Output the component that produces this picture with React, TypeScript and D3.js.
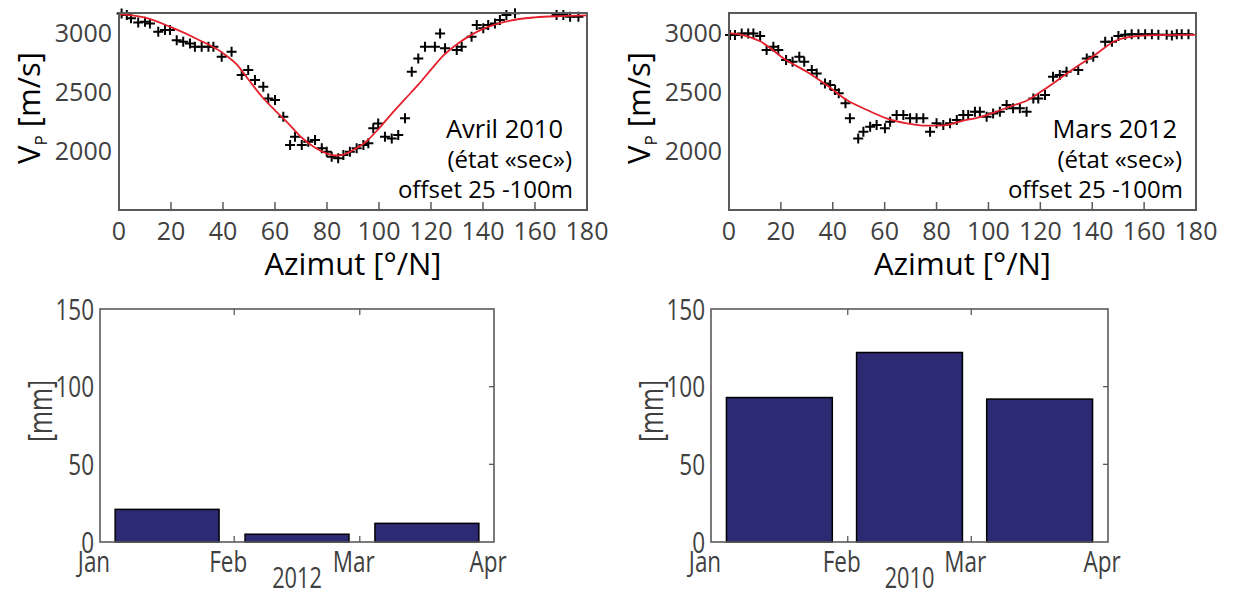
import React from "react";
import * as d3 from "d3";

// ---------- DATA ----------
const avrilAz = [1, 3, 4.6, 7.4, 10, 11.9, 15.1, 17.7, 19.6, 22.2, 24.7, 27.3, 29.2, 31.8, 34.4, 36.3, 39.5, 43.3, 47.2, 49.7, 52.3, 55.5, 57.4, 60, 63.2, 65.8, 67.7, 70.3, 72.8, 75.4, 78, 79.9, 81.8, 84.3, 86.3, 88.8, 91.4, 94, 95.9, 97.8, 99.7, 102.3, 104.9, 107.4, 110, 112.6, 115.1, 117.7, 121.5, 123.5, 125.4, 129.9, 131.8, 135.6, 137.6, 140.1, 142, 144.6, 146.5, 149, 152.3, 168.3, 170.9, 173.5, 176.7];
const avrilV = [3165, 3153, 3125, 3090, 3096, 3082, 3011, 3025, 3025, 2940, 2926, 2912, 2884, 2884, 2884, 2884, 2799, 2841, 2644, 2686, 2602, 2545, 2446, 2432, 2291, 2051, 2121, 2051, 2079, 2093, 2023, 1994, 1952, 1938, 1966, 1994, 2023, 2051, 2065, 2192, 2234, 2121, 2107, 2135, 2277, 2672, 2785, 2884, 2884, 2997, 2872, 2856, 2884, 2969, 3068, 3040, 3068, 3082, 3110, 3153, 3167, 3153, 3153, 3138, 3138];
const avrilFitAz = [0, 10, 20, 30, 40, 45, 50, 55, 60, 65, 70, 75, 80, 83, 86, 90, 95, 100, 105, 110, 115, 120, 125, 130, 135, 140, 150, 160, 170, 180];
const avrilFitV = [3160, 3130, 3050, 2950, 2830, 2740, 2600, 2460, 2345, 2237, 2119, 2034, 1978, 1962, 1968, 2008, 2079, 2192, 2319, 2440, 2560, 2690, 2815, 2905, 2978, 3035, 3104, 3133, 3144, 3150];

const marsAz = [0.4, 2.3, 4.9, 7.4, 9.4, 12, 14.5, 17.1, 19, 22, 24.5, 27.1, 29, 31.9, 33.8, 37, 39, 40.9, 42.3, 44.9, 46.6, 49.8, 51.8, 54.4, 56.9, 60.1, 62.1, 64.6, 67.2, 69.8, 72.3, 74.9, 77.5, 80, 82.6, 85.2, 87.8, 90.3, 92.2, 94.8, 96.7, 99.3, 101.8, 104.4, 107, 109.5, 112.1, 114.7, 117.3, 119.2, 121.8, 124.9, 127.5, 130.1, 134.6, 137.9, 140.4, 145, 147.6, 150.1, 152.7, 155.2, 157.8, 160.4, 163, 165.5, 168.7, 170.7, 172.6, 174.5, 177.1];
const marsV = [2983, 2983, 2997, 2997, 2997, 2975, 2856, 2884, 2856, 2771, 2757, 2799, 2757, 2686, 2658, 2573, 2559, 2517, 2489, 2404, 2277, 2107, 2163, 2206, 2220, 2192, 2248, 2305, 2305, 2277, 2277, 2277, 2163, 2235, 2220, 2235, 2263, 2305, 2305, 2333, 2333, 2291, 2319, 2333, 2390, 2362, 2362, 2333, 2446, 2446, 2475, 2630, 2644, 2672, 2686, 2785, 2799, 2926, 2926, 2975, 2985, 2990, 2990, 2990, 2990, 2985, 2985, 2980, 2990, 2990, 2990];
const marsFitAz = [0, 5, 12, 22, 30, 37.6, 45.4, 53, 61, 68.5, 76, 83, 90, 97, 103, 110, 114, 120, 126, 133, 141, 149, 154, 164, 180];
const marsFitV = [3000, 2985, 2930, 2771, 2672, 2559, 2432, 2350, 2275, 2235, 2215, 2218, 2255, 2290, 2333, 2390, 2420, 2500, 2590, 2700, 2814, 2935, 2965, 2983, 2985];

const azTicks = [0, 20, 40, 60, 80, 100, 120, 140, 160, 180];
const vTicks = [2000, 2500, 3000];
const mmTicks = [0, 50, 100, 150];
const monthLabels = ["Jan", "Feb", "Mar", "Apr"];

const rain2012Months = [0, 1, 2];
const rain2012 = [21, 5, 12];
const rain2010Months = [0, 1, 2];
const rain2010 = [93, 122, 92];

// ---------- STYLE ----------
const FRAME = "#5a5a5a";
const TICKTXT = "#404040";
const BAR = "#2b2a73";
const RED = "#e3202c";
const FONT = "'Open Sans', 'Noto Sans', sans-serif";
const SQ = 0.75; // horizontal condensing for the condensed labels

function Cross({ x, y }: { x: number; y: number }) {
  const h = 5;
  return (
    <path d={`M${x - h},${y}H${x + h}M${x},${y - h}V${y + h}`} stroke="#000" strokeWidth={2} fill="none" />
  );
}

function CText({ x, y, anchor, children, rotate, size }: any) {
  const tr = rotate ? `translate(${x},${y}) rotate(-90) scale(${SQ},1)` : `translate(${x},${y}) scale(${SQ},1)`;
  return (
    <text transform={tr} textAnchor={anchor} fontSize={size || 30} fill={TICKTXT} fontFamily={FONT}>{children}</text>
  );
}

function AzPanel({ left, right, az, v, fitAz, fitV, lines }: any) {
  const top = 13, bottom = 210;
  const x = d3.scaleLinear().domain([0, 180]).range([left, right]);
  const y = d3.scaleLinear().domain([1500, 3170]).range([bottom, top]);
  const line = d3.line<number>().x((d, i) => x(fitAz[i])).y((d) => y(d)).curve(d3.curveMonotoneX);
  return (
    <g>
      {az.map((a: number, i: number) => (
        <Cross key={i} x={x(a)} y={y(v[i])} />
      ))}
      <path d={line(fitV) || ""} stroke={RED} strokeWidth={1.8} fill="none" />
      <rect x={left} y={top} width={right - left} height={bottom - top} fill="none" stroke={FRAME} strokeWidth={2} />
      {azTicks.map((t) => (
        <g key={t}>
          <line x1={x(t)} x2={x(t)} y1={bottom} y2={bottom - 8} stroke={FRAME} strokeWidth={1.5} />
          <text x={x(t)} y={240} textAnchor="middle" fontSize={25} fill={TICKTXT} fontFamily={FONT}>{t}</text>
        </g>
      ))}
      {vTicks.map((t) => (
        <text key={t} x={left - 7} y={y(t)} dy="0.35em" textAnchor="end" fontSize={25} fill={TICKTXT} fontFamily={FONT}>{t}</text>
      ))}
      <text x={(left + right) / 2} y={275} textAnchor="middle" fontSize={31} fill="#000" fontFamily={FONT}>Azimut [°/N]</text>
      <text transform={`translate(${left - 79},${108}) rotate(-90)`} textAnchor="middle" fontSize={31} fill="#000" fontFamily={FONT}>
        V<tspan fontSize={17} dy={7}>P</tspan><tspan dy={-7}> [m/s]</tspan>
      </text>
      {lines.map((l: any, i: number) => (
        <text key={i} x={right - l.off} y={138 + i * 30} textAnchor="end" fontSize={i === 0 ? 25.5 : 24} fill="#000" fontFamily={FONT}>{l.t}</text>
      ))}
    </g>
  );
}

function RainPanel({ left, right, year, months, values }: any) {
  const top = 309, bottom = 542;
  const x = d3.scaleTime().domain([new Date(year, 0, 1), new Date(year, 3, 1)]).range([left, right]);
  const y = d3.scaleLinear().domain([0, 150]).range([bottom, top]);
  const DAY = 86400000;
  const tickDates = [0, 1, 2, 3].map((m) => new Date(year, m, 1));
  return (
    <g>
      {months.map((m: number, i: number) => {
        const s = new Date(year, m, 1).getTime();
        const e = new Date(year, m + 1, 1).getTime();
        const c = (s + e) / 2;
        const x0 = x(new Date(c - 12 * DAY));
        const x1 = x(new Date(c + 12 * DAY));
        return (
          <rect key={i} x={x0} y={y(values[i])} width={x1 - x0} height={bottom - y(values[i])} fill={BAR} stroke="#000" strokeWidth={1.5} />
        );
      })}
      <rect x={left} y={top} width={right - left} height={bottom - top} fill="none" stroke={FRAME} strokeWidth={1.6} />
      {tickDates.map((d, i) => (
        <g key={i}>
          {i > 0 && i < 3 && (
            <>
              <line x1={x(d)} x2={x(d)} y1={bottom} y2={bottom - 6} stroke={FRAME} strokeWidth={1.3} />
              <line x1={x(d)} x2={x(d)} y1={top} y2={top + 6} stroke={FRAME} strokeWidth={1.3} />
            </>
          )}
          <CText x={x(d) - 6} y={572} anchor="middle">{monthLabels[i]}</CText>
        </g>
      ))}
      {mmTicks.map((t) => (
        <g key={t}>
          {t > 0 && t < 150 && <line x1={right} x2={right - 5} y1={y(t)} y2={y(t)} stroke={FRAME} strokeWidth={1.3} />}
          <CText x={left - 6} y={y(t) + 10.5} anchor="end">{t}</CText>
        </g>
      ))}
      <CText x={(left + right) / 2} y={588} anchor="middle" size={29}>{year}</CText>
      <CText x={left - 48} y={411} anchor="middle" rotate size={33}>[mm]</CText>
    </g>
  );
}

export default function App() {
  return (
    <svg width={1236} height={597} style={{ position: "absolute", left: 0, top: 0, background: "#fff" }}>
      <rect width={1236} height={597} fill="#fff" />
      <AzPanel left={119} right={587} az={avrilAz} v={avrilV} fitAz={avrilFitAz} fitV={avrilFitV}
        lines={[{ t: "Avril 2010", off: 24 }, { t: "(état «sec»)", off: 15 }, { t: "offset 25 -100m", off: 14 }]} />
      <AzPanel left={729} right={1196} az={marsAz} v={marsV} fitAz={marsFitAz} fitV={marsFitV}
        lines={[{ t: "Mars 2012", off: 19 }, { t: "(état «sec»)", off: 14 }, { t: "offset 25 -100m", off: 13 }]} />
      <RainPanel left={100} right={494} year={2012} months={rain2012Months} values={rain2012} />
      <RainPanel left={711} right={1108} year={2010} months={rain2010Months} values={rain2010} />
    </svg>
  );
}
